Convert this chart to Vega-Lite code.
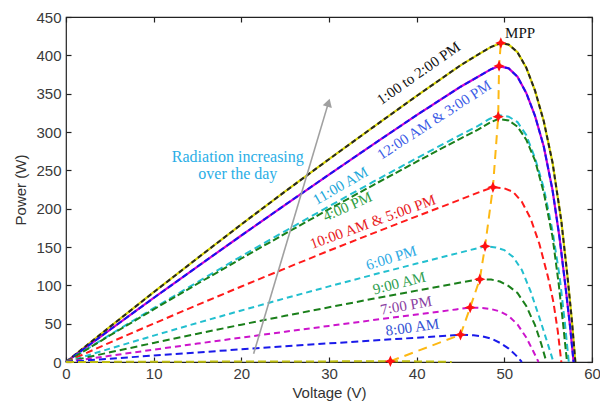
{
  "$schema": "https://vega.github.io/schema/vega-lite/v6.json",
  "width": 526,
  "height": 345,
  "autosize": {"type": "none"},
  "padding": {"left": 66, "top": 17, "right": 8, "bottom": 43},
  "background": "white",
  "config": {
    "view": {"stroke": "#222", "strokeWidth": 1.2},
    "axis": {
      "grid": false, "domain": false, "tickSize": -5, "tickColor": "#222", "tickWidth": 1.2,
      "labelFont": "Liberation Sans", "labelFontSize": 15, "labelColor": "#3a3a3a", "labelFlush": false,
      "titleFont": "Liberation Sans", "titleFontSize": 15, "titleFontWeight": "normal", "titleColor": "#333"
    },
    "text": {"font": "Liberation Serif", "fontSize": 15, "align": "center", "baseline": "middle"}
  },
  "resolve": {"axis": {"x": "independent", "y": "independent"}},
  "datasets": {
    "curves": [
      {"s": "1:00 to 2:00 PM", "V": 0, "P": 0}, {"s": "1:00 to 2:00 PM", "V": 5, "P": 45.8}, {"s": "1:00 to 2:00 PM", "V": 10, "P": 91}, {"s": "1:00 to 2:00 PM", "V": 15, "P": 135.5}, {"s": "1:00 to 2:00 PM", "V": 20, "P": 179.5}, {"s": "1:00 to 2:00 PM", "V": 25, "P": 222.5}, {"s": "1:00 to 2:00 PM", "V": 30, "P": 264.5}, {"s": "1:00 to 2:00 PM", "V": 35, "P": 306}, {"s": "1:00 to 2:00 PM", "V": 40, "P": 347}, {"s": "1:00 to 2:00 PM", "V": 45, "P": 387}, {"s": "1:00 to 2:00 PM", "V": 47, "P": 401}, {"s": "1:00 to 2:00 PM", "V": 48.5, "P": 411}, {"s": "1:00 to 2:00 PM", "V": 49.6, "P": 416}, {"s": "1:00 to 2:00 PM", "V": 50.5, "P": 414}, {"s": "1:00 to 2:00 PM", "V": 51.5, "P": 404}, {"s": "1:00 to 2:00 PM", "V": 52.5, "P": 384}, {"s": "1:00 to 2:00 PM", "V": 53.5, "P": 354}, {"s": "1:00 to 2:00 PM", "V": 54.5, "P": 314}, {"s": "1:00 to 2:00 PM", "V": 55.5, "P": 260}, {"s": "1:00 to 2:00 PM", "V": 56.5, "P": 184}, {"s": "1:00 to 2:00 PM", "V": 57.2, "P": 112}, {"s": "1:00 to 2:00 PM", "V": 57.7, "P": 55}, {"s": "1:00 to 2:00 PM", "V": 58.1, "P": 0},

      {"s": "12:00 AM & 3:00 PM", "V": 0, "P": 0}, {"s": "12:00 AM & 3:00 PM", "V": 5, "P": 42}, {"s": "12:00 AM & 3:00 PM", "V": 10, "P": 83.5}, {"s": "12:00 AM & 3:00 PM", "V": 15, "P": 124.5}, {"s": "12:00 AM & 3:00 PM", "V": 20, "P": 165}, {"s": "12:00 AM & 3:00 PM", "V": 25, "P": 205}, {"s": "12:00 AM & 3:00 PM", "V": 30, "P": 244.5}, {"s": "12:00 AM & 3:00 PM", "V": 35, "P": 283.5}, {"s": "12:00 AM & 3:00 PM", "V": 40, "P": 322}, {"s": "12:00 AM & 3:00 PM", "V": 45, "P": 359}, {"s": "12:00 AM & 3:00 PM", "V": 47, "P": 372}, {"s": "12:00 AM & 3:00 PM", "V": 48.5, "P": 382}, {"s": "12:00 AM & 3:00 PM", "V": 49.4, "P": 386}, {"s": "12:00 AM & 3:00 PM", "V": 50.5, "P": 383}, {"s": "12:00 AM & 3:00 PM", "V": 51.5, "P": 372}, {"s": "12:00 AM & 3:00 PM", "V": 52.5, "P": 351}, {"s": "12:00 AM & 3:00 PM", "V": 53.5, "P": 321}, {"s": "12:00 AM & 3:00 PM", "V": 54.5, "P": 281}, {"s": "12:00 AM & 3:00 PM", "V": 55.5, "P": 224}, {"s": "12:00 AM & 3:00 PM", "V": 56.3, "P": 162}, {"s": "12:00 AM & 3:00 PM", "V": 57, "P": 96}, {"s": "12:00 AM & 3:00 PM", "V": 57.5, "P": 46}, {"s": "12:00 AM & 3:00 PM", "V": 57.9, "P": 0},

      {"s": "11:00 AM", "V": 0, "P": 0}, {"s": "11:00 AM", "V": 5, "P": 35.4}, {"s": "11:00 AM", "V": 10, "P": 70.2}, {"s": "11:00 AM", "V": 15, "P": 104.3}, {"s": "11:00 AM", "V": 20, "P": 137.9}, {"s": "11:00 AM", "V": 25, "P": 170.8}, {"s": "11:00 AM", "V": 30, "P": 203.1}, {"s": "11:00 AM", "V": 35, "P": 234.8}, {"s": "11:00 AM", "V": 40, "P": 265.8}, {"s": "11:00 AM", "V": 45, "P": 296.3}, {"s": "11:00 AM", "V": 47, "P": 308}, {"s": "11:00 AM", "V": 48.3, "P": 317}, {"s": "11:00 AM", "V": 49.3, "P": 322}, {"s": "11:00 AM", "V": 50.5, "P": 320}, {"s": "11:00 AM", "V": 51.5, "P": 313}, {"s": "11:00 AM", "V": 52.5, "P": 296}, {"s": "11:00 AM", "V": 53.5, "P": 266}, {"s": "11:00 AM", "V": 54.5, "P": 227}, {"s": "11:00 AM", "V": 55.5, "P": 171}, {"s": "11:00 AM", "V": 56.3, "P": 112}, {"s": "11:00 AM", "V": 56.9, "P": 52}, {"s": "11:00 AM", "V": 57.35, "P": 0},

      {"s": "4:00 PM", "V": 0, "P": 0}, {"s": "4:00 PM", "V": 5, "P": 34.6}, {"s": "4:00 PM", "V": 10, "P": 68.6}, {"s": "4:00 PM", "V": 15, "P": 102.1}, {"s": "4:00 PM", "V": 20, "P": 135}, {"s": "4:00 PM", "V": 25, "P": 167.4}, {"s": "4:00 PM", "V": 30, "P": 199.3}, {"s": "4:00 PM", "V": 35, "P": 230.5}, {"s": "4:00 PM", "V": 40, "P": 261.3}, {"s": "4:00 PM", "V": 45, "P": 291.5}, {"s": "4:00 PM", "V": 47, "P": 303}, {"s": "4:00 PM", "V": 48.3, "P": 312}, {"s": "4:00 PM", "V": 49.3, "P": 317}, {"s": "4:00 PM", "V": 50.5, "P": 315}, {"s": "4:00 PM", "V": 51.5, "P": 307}, {"s": "4:00 PM", "V": 52.5, "P": 290}, {"s": "4:00 PM", "V": 53.5, "P": 263}, {"s": "4:00 PM", "V": 54.5, "P": 221}, {"s": "4:00 PM", "V": 55.5, "P": 163}, {"s": "4:00 PM", "V": 56.2, "P": 102}, {"s": "4:00 PM", "V": 56.7, "P": 50}, {"s": "4:00 PM", "V": 57.15, "P": 0},

      {"s": "10:00 AM & 5:00 PM", "V": 0, "P": 0}, {"s": "10:00 AM & 5:00 PM", "V": 5, "P": 25.3}, {"s": "10:00 AM & 5:00 PM", "V": 10, "P": 50.1}, {"s": "10:00 AM & 5:00 PM", "V": 15, "P": 74.5}, {"s": "10:00 AM & 5:00 PM", "V": 20, "P": 98.5}, {"s": "10:00 AM & 5:00 PM", "V": 25, "P": 122}, {"s": "10:00 AM & 5:00 PM", "V": 30, "P": 145.2}, {"s": "10:00 AM & 5:00 PM", "V": 35, "P": 167.8}, {"s": "10:00 AM & 5:00 PM", "V": 40, "P": 190}, {"s": "10:00 AM & 5:00 PM", "V": 45, "P": 211.9}, {"s": "10:00 AM & 5:00 PM", "V": 47, "P": 221}, {"s": "10:00 AM & 5:00 PM", "V": 48.7, "P": 228}, {"s": "10:00 AM & 5:00 PM", "V": 50, "P": 226.5}, {"s": "10:00 AM & 5:00 PM", "V": 51, "P": 222}, {"s": "10:00 AM & 5:00 PM", "V": 52, "P": 209}, {"s": "10:00 AM & 5:00 PM", "V": 53, "P": 187}, {"s": "10:00 AM & 5:00 PM", "V": 54, "P": 154}, {"s": "10:00 AM & 5:00 PM", "V": 55, "P": 110}, {"s": "10:00 AM & 5:00 PM", "V": 55.6, "P": 78}, {"s": "10:00 AM & 5:00 PM", "V": 56.1, "P": 40}, {"s": "10:00 AM & 5:00 PM", "V": 56.5, "P": 0},

      {"s": "6:00 PM", "V": 0, "P": 0}, {"s": "6:00 PM", "V": 5, "P": 17.4}, {"s": "6:00 PM", "V": 10, "P": 34.4}, {"s": "6:00 PM", "V": 15, "P": 51}, {"s": "6:00 PM", "V": 20, "P": 67.2}, {"s": "6:00 PM", "V": 25, "P": 83.1}, {"s": "6:00 PM", "V": 30, "P": 98.6}, {"s": "6:00 PM", "V": 35, "P": 113.7}, {"s": "6:00 PM", "V": 40, "P": 128.4}, {"s": "6:00 PM", "V": 45, "P": 142.8}, {"s": "6:00 PM", "V": 47.8, "P": 151}, {"s": "6:00 PM", "V": 49, "P": 149.5}, {"s": "6:00 PM", "V": 50, "P": 146}, {"s": "6:00 PM", "V": 51, "P": 137}, {"s": "6:00 PM", "V": 52, "P": 120}, {"s": "6:00 PM", "V": 53, "P": 92}, {"s": "6:00 PM", "V": 54, "P": 58}, {"s": "6:00 PM", "V": 55, "P": 22}, {"s": "6:00 PM", "V": 55.6, "P": 0},

      {"s": "9:00 AM", "V": 0, "P": 0}, {"s": "9:00 AM", "V": 5, "P": 12.6}, {"s": "9:00 AM", "V": 10, "P": 24.9}, {"s": "9:00 AM", "V": 15, "P": 36.9}, {"s": "9:00 AM", "V": 20, "P": 48.7}, {"s": "9:00 AM", "V": 25, "P": 60.2}, {"s": "9:00 AM", "V": 30, "P": 71.4}, {"s": "9:00 AM", "V": 35, "P": 82.4}, {"s": "9:00 AM", "V": 40, "P": 93.1}, {"s": "9:00 AM", "V": 45, "P": 103.6}, {"s": "9:00 AM", "V": 47.2, "P": 108}, {"s": "9:00 AM", "V": 48.5, "P": 107.5}, {"s": "9:00 AM", "V": 49.5, "P": 105}, {"s": "9:00 AM", "V": 50.5, "P": 99}, {"s": "9:00 AM", "V": 51.5, "P": 90}, {"s": "9:00 AM", "V": 52.5, "P": 73}, {"s": "9:00 AM", "V": 53.5, "P": 48}, {"s": "9:00 AM", "V": 54.2, "P": 24}, {"s": "9:00 AM", "V": 54.8, "P": 0},

      {"s": "7:00 PM", "V": 0, "P": 0}, {"s": "7:00 PM", "V": 5, "P": 8.1}, {"s": "7:00 PM", "V": 10, "P": 16.1}, {"s": "7:00 PM", "V": 15, "P": 24}, {"s": "7:00 PM", "V": 20, "P": 31.8}, {"s": "7:00 PM", "V": 25, "P": 39.5}, {"s": "7:00 PM", "V": 30, "P": 47.1}, {"s": "7:00 PM", "V": 35, "P": 54.6}, {"s": "7:00 PM", "V": 40, "P": 62}, {"s": "7:00 PM", "V": 44.5, "P": 68.6}, {"s": "7:00 PM", "V": 46.1, "P": 71}, {"s": "7:00 PM", "V": 47.5, "P": 70.5}, {"s": "7:00 PM", "V": 48.5, "P": 69}, {"s": "7:00 PM", "V": 49.5, "P": 66}, {"s": "7:00 PM", "V": 50.5, "P": 60}, {"s": "7:00 PM", "V": 51.5, "P": 49}, {"s": "7:00 PM", "V": 52.5, "P": 32}, {"s": "7:00 PM", "V": 53.3, "P": 14}, {"s": "7:00 PM", "V": 53.9, "P": 0},

      {"s": "8:00 AM", "V": 0, "P": 0}, {"s": "8:00 AM", "V": 5, "P": 4.3}, {"s": "8:00 AM", "V": 10, "P": 8.4}, {"s": "8:00 AM", "V": 15, "P": 12.5}, {"s": "8:00 AM", "V": 20, "P": 16.5}, {"s": "8:00 AM", "V": 25, "P": 20.4}, {"s": "8:00 AM", "V": 30, "P": 24.3}, {"s": "8:00 AM", "V": 35, "P": 28}, {"s": "8:00 AM", "V": 40, "P": 31.7}, {"s": "8:00 AM", "V": 43.5, "P": 34.3}, {"s": "8:00 AM", "V": 45, "P": 35.5}, {"s": "8:00 AM", "V": 46.5, "P": 34.8}, {"s": "8:00 AM", "V": 47.5, "P": 33.5}, {"s": "8:00 AM", "V": 48.5, "P": 30.5}, {"s": "8:00 AM", "V": 49.5, "P": 25}, {"s": "8:00 AM", "V": 50.5, "P": 17.5}, {"s": "8:00 AM", "V": 51.3, "P": 9}, {"s": "8:00 AM", "V": 52, "P": 0},

      {"s": "Low irradiance", "V": 0, "P": 0}, {"s": "Low irradiance", "V": 10, "P": 0.3}, {"s": "Low irradiance", "V": 20, "P": 0.6}, {"s": "Low irradiance", "V": 30, "P": 0.8}, {"s": "Low irradiance", "V": 37, "P": 1}, {"s": "Low irradiance", "V": 40, "P": 0.8}, {"s": "Low irradiance", "V": 42, "P": 0.5}, {"s": "Low irradiance", "V": 44, "P": 0}
    ],
    "mpp": [
      {"V": 37, "P": 1}, {"V": 45, "P": 35.5}, {"V": 46.1, "P": 71}, {"V": 47.2, "P": 108}, {"V": 47.8, "P": 151}, {"V": 48.7, "P": 228}, {"V": 49.3, "P": 320}, {"V": 49.4, "P": 386}, {"V": 49.6, "P": 416}
    ]
  },
  "layer": [
    {
      "data": {"values": [{"V": 0, "P": 0}]},
      "mark": {"type": "point", "opacity": 0},
      "encoding": {
        "x": {"field": "V", "type": "quantitative", "scale": {"domain": [0, 60], "nice": false}, "axis": {"orient": "top", "labels": false, "title": null, "values": [0, 10, 20, 30, 40, 50, 60]}},
        "y": {"field": "P", "type": "quantitative", "scale": {"domain": [0, 450], "nice": false}, "axis": {"orient": "right", "labels": false, "title": null, "values": [0, 50, 100, 150, 200, 250, 300, 350, 400, 450]}}
      }
    },
    {
      "data": {"name": "curves"},
      "transform": [{"filter": "datum.s === '1:00 to 2:00 PM'"}],
      "mark": {"type": "line", "color": "#d8d400", "strokeWidth": 2.2},
      "encoding": {
        "x": {"field": "V", "type": "quantitative", "axis": null},
        "y": {"field": "P", "type": "quantitative", "axis": null}
      }
    },
    {
      "data": {"name": "curves"},
      "transform": [{"filter": "datum.s === '12:00 AM & 3:00 PM'"}],
      "mark": {"type": "line", "color": "#d000d0", "strokeWidth": 2.2},
      "encoding": {
        "x": {"field": "V", "type": "quantitative", "axis": null},
        "y": {"field": "P", "type": "quantitative", "axis": null}
      }
    },
    {
      "data": {"name": "curves"},
      "mark": {"type": "line", "strokeWidth": 2},
      "encoding": {
        "x": {"field": "V", "type": "quantitative", "title": "Voltage (V)", "axis": {"values": [0, 10, 20, 30, 40, 50, 60], "labelPadding": 9, "titlePadding": 4}},
        "y": {"field": "P", "type": "quantitative", "title": "Power (W)", "axis": {"values": [0, 50, 100, 150, 200, 250, 300, 350, 400, 450], "labelPadding": 10, "titlePadding": 7}},
        "color": {"field": "s", "type": "nominal", "legend": null, "scale": {
          "domain": ["1:00 to 2:00 PM", "12:00 AM & 3:00 PM", "11:00 AM", "4:00 PM", "10:00 AM & 5:00 PM", "6:00 PM", "9:00 AM", "7:00 PM", "8:00 AM", "Low irradiance"],
          "range": ["#252525", "#1414ee", "#22bfcf", "#1a7f1a", "#ff1a1a", "#22bfcf", "#1a7f1a", "#cc14cc", "#1a1aea", "#bdbd10"]}},
        "strokeDash": {"field": "s", "type": "nominal", "legend": null, "scale": {
          "domain": ["1:00 to 2:00 PM", "12:00 AM & 3:00 PM", "11:00 AM", "4:00 PM", "10:00 AM & 5:00 PM", "6:00 PM", "9:00 AM", "7:00 PM", "8:00 AM", "Low irradiance"],
          "range": [[5, 3], [6, 3], [7, 4], [7, 3], [7, 4], [6, 4], [7, 4], [6, 4], [7, 4], [8, 4]]}},
        "detail": {"field": "s", "type": "nominal"}
      }
    },
    {
      "data": {"name": "mpp"},
      "mark": {"type": "line", "color": "#fdb813", "strokeWidth": 2, "strokeDash": [9, 6]},
      "encoding": {
        "x": {"field": "V", "type": "quantitative", "axis": null},
        "y": {"field": "P", "type": "quantitative", "axis": null}
      }
    },
    {
      "data": {"name": "mpp"},
      "mark": {"type": "point", "shape": "M0,-1L0.3,-0.3L1,0L0.3,0.3L0,1L-0.3,0.3L-1,0L-0.3,-0.3Z", "filled": true, "color": "#ff1010", "opacity": 1, "size": 130},
      "encoding": {
        "x": {"field": "V", "type": "quantitative", "axis": null},
        "y": {"field": "P", "type": "quantitative", "axis": null}
      }
    },
    {
      "data": {"values": [{"V": 21.4, "P": 10.7}, {"V": 29.94, "P": 338.3}]},
      "mark": {"type": "line", "color": "#a0a0a0", "strokeWidth": 1.6},
      "encoding": {
        "x": {"field": "V", "type": "quantitative", "axis": null},
        "y": {"field": "P", "type": "quantitative", "axis": null}
      }
    },
    {
      "data": {"values": [{"V": 29.94, "P": 338.3}]},
      "mark": {"type": "point", "shape": "triangle-up", "filled": true, "color": "#a0a0a0", "opacity": 1, "size": 90, "angle": 16.5},
      "encoding": {
        "x": {"field": "V", "type": "quantitative", "axis": null},
        "y": {"field": "P", "type": "quantitative", "axis": null}
      }
    },
    {
      "data": {"values": [{"t": "Radiation increasing", "V": 19.6, "P": 267}, {"t": "over the day", "V": 19.6, "P": 245}]},
      "mark": {"type": "text", "color": "#2aaee6", "fontSize": 16},
      "encoding": {"x": {"field": "V", "type": "quantitative", "axis": null}, "y": {"field": "P", "type": "quantitative", "axis": null}, "text": {"field": "t"}}
    },
    {
      "data": {"values": [{"t": "MPP", "V": 51.8, "P": 428.7}]},
      "mark": {"type": "text", "color": "#111"},
      "encoding": {"x": {"field": "V", "type": "quantitative", "axis": null}, "y": {"field": "P", "type": "quantitative", "axis": null}, "text": {"field": "t"}}
    },
    {
      "data": {"values": [{"t": "1:00 to 2:00 PM", "V": 40.2, "P": 377}]},
      "mark": {"type": "text", "color": "#111", "angle": -35},
      "encoding": {"x": {"field": "V", "type": "quantitative", "axis": null}, "y": {"field": "P", "type": "quantitative", "axis": null}, "text": {"field": "t"}}
    },
    {
      "data": {"values": [{"t": "12:00 AM & 3:00 PM", "V": 42.0, "P": 316}]},
      "mark": {"type": "text", "color": "#3c5ce6", "angle": -33},
      "encoding": {"x": {"field": "V", "type": "quantitative", "axis": null}, "y": {"field": "P", "type": "quantitative", "axis": null}, "text": {"field": "t"}}
    },
    {
      "data": {"values": [{"t": "11:00 AM", "V": 31.3, "P": 230}]},
      "mark": {"type": "text", "color": "#22a8da", "angle": -30},
      "encoding": {"x": {"field": "V", "type": "quantitative", "axis": null}, "y": {"field": "P", "type": "quantitative", "axis": null}, "text": {"field": "t"}}
    },
    {
      "data": {"values": [{"t": "4:00 PM", "V": 32.1, "P": 203}]},
      "mark": {"type": "text", "color": "#2e9e44", "angle": -24},
      "encoding": {"x": {"field": "V", "type": "quantitative", "axis": null}, "y": {"field": "P", "type": "quantitative", "axis": null}, "text": {"field": "t"}}
    },
    {
      "data": {"values": [{"t": "10:00 AM & 5:00 PM", "V": 35.0, "P": 183}]},
      "mark": {"type": "text", "color": "#e8201e", "angle": -20},
      "encoding": {"x": {"field": "V", "type": "quantitative", "axis": null}, "y": {"field": "P", "type": "quantitative", "axis": null}, "text": {"field": "t"}}
    },
    {
      "data": {"values": [{"t": "6:00 PM", "V": 37.1, "P": 136}]},
      "mark": {"type": "text", "color": "#2eaae4", "angle": -17},
      "encoding": {"x": {"field": "V", "type": "quantitative", "axis": null}, "y": {"field": "P", "type": "quantitative", "axis": null}, "text": {"field": "t"}}
    },
    {
      "data": {"values": [{"t": "9:00 AM", "V": 38.0, "P": 103}]},
      "mark": {"type": "text", "color": "#2e9e50", "angle": -14},
      "encoding": {"x": {"field": "V", "type": "quantitative", "axis": null}, "y": {"field": "P", "type": "quantitative", "axis": null}, "text": {"field": "t"}}
    },
    {
      "data": {"values": [{"t": "7:00 PM", "V": 38.8, "P": 74}]},
      "mark": {"type": "text", "color": "#8a3ea2", "angle": -10},
      "encoding": {"x": {"field": "V", "type": "quantitative", "axis": null}, "y": {"field": "P", "type": "quantitative", "axis": null}, "text": {"field": "t"}}
    },
    {
      "data": {"values": [{"t": "8:00 AM", "V": 39.5, "P": 45.5}]},
      "mark": {"type": "text", "color": "#3452d4", "angle": -8},
      "encoding": {"x": {"field": "V", "type": "quantitative", "axis": null}, "y": {"field": "P", "type": "quantitative", "axis": null}, "text": {"field": "t"}}
    }
  ]
}
